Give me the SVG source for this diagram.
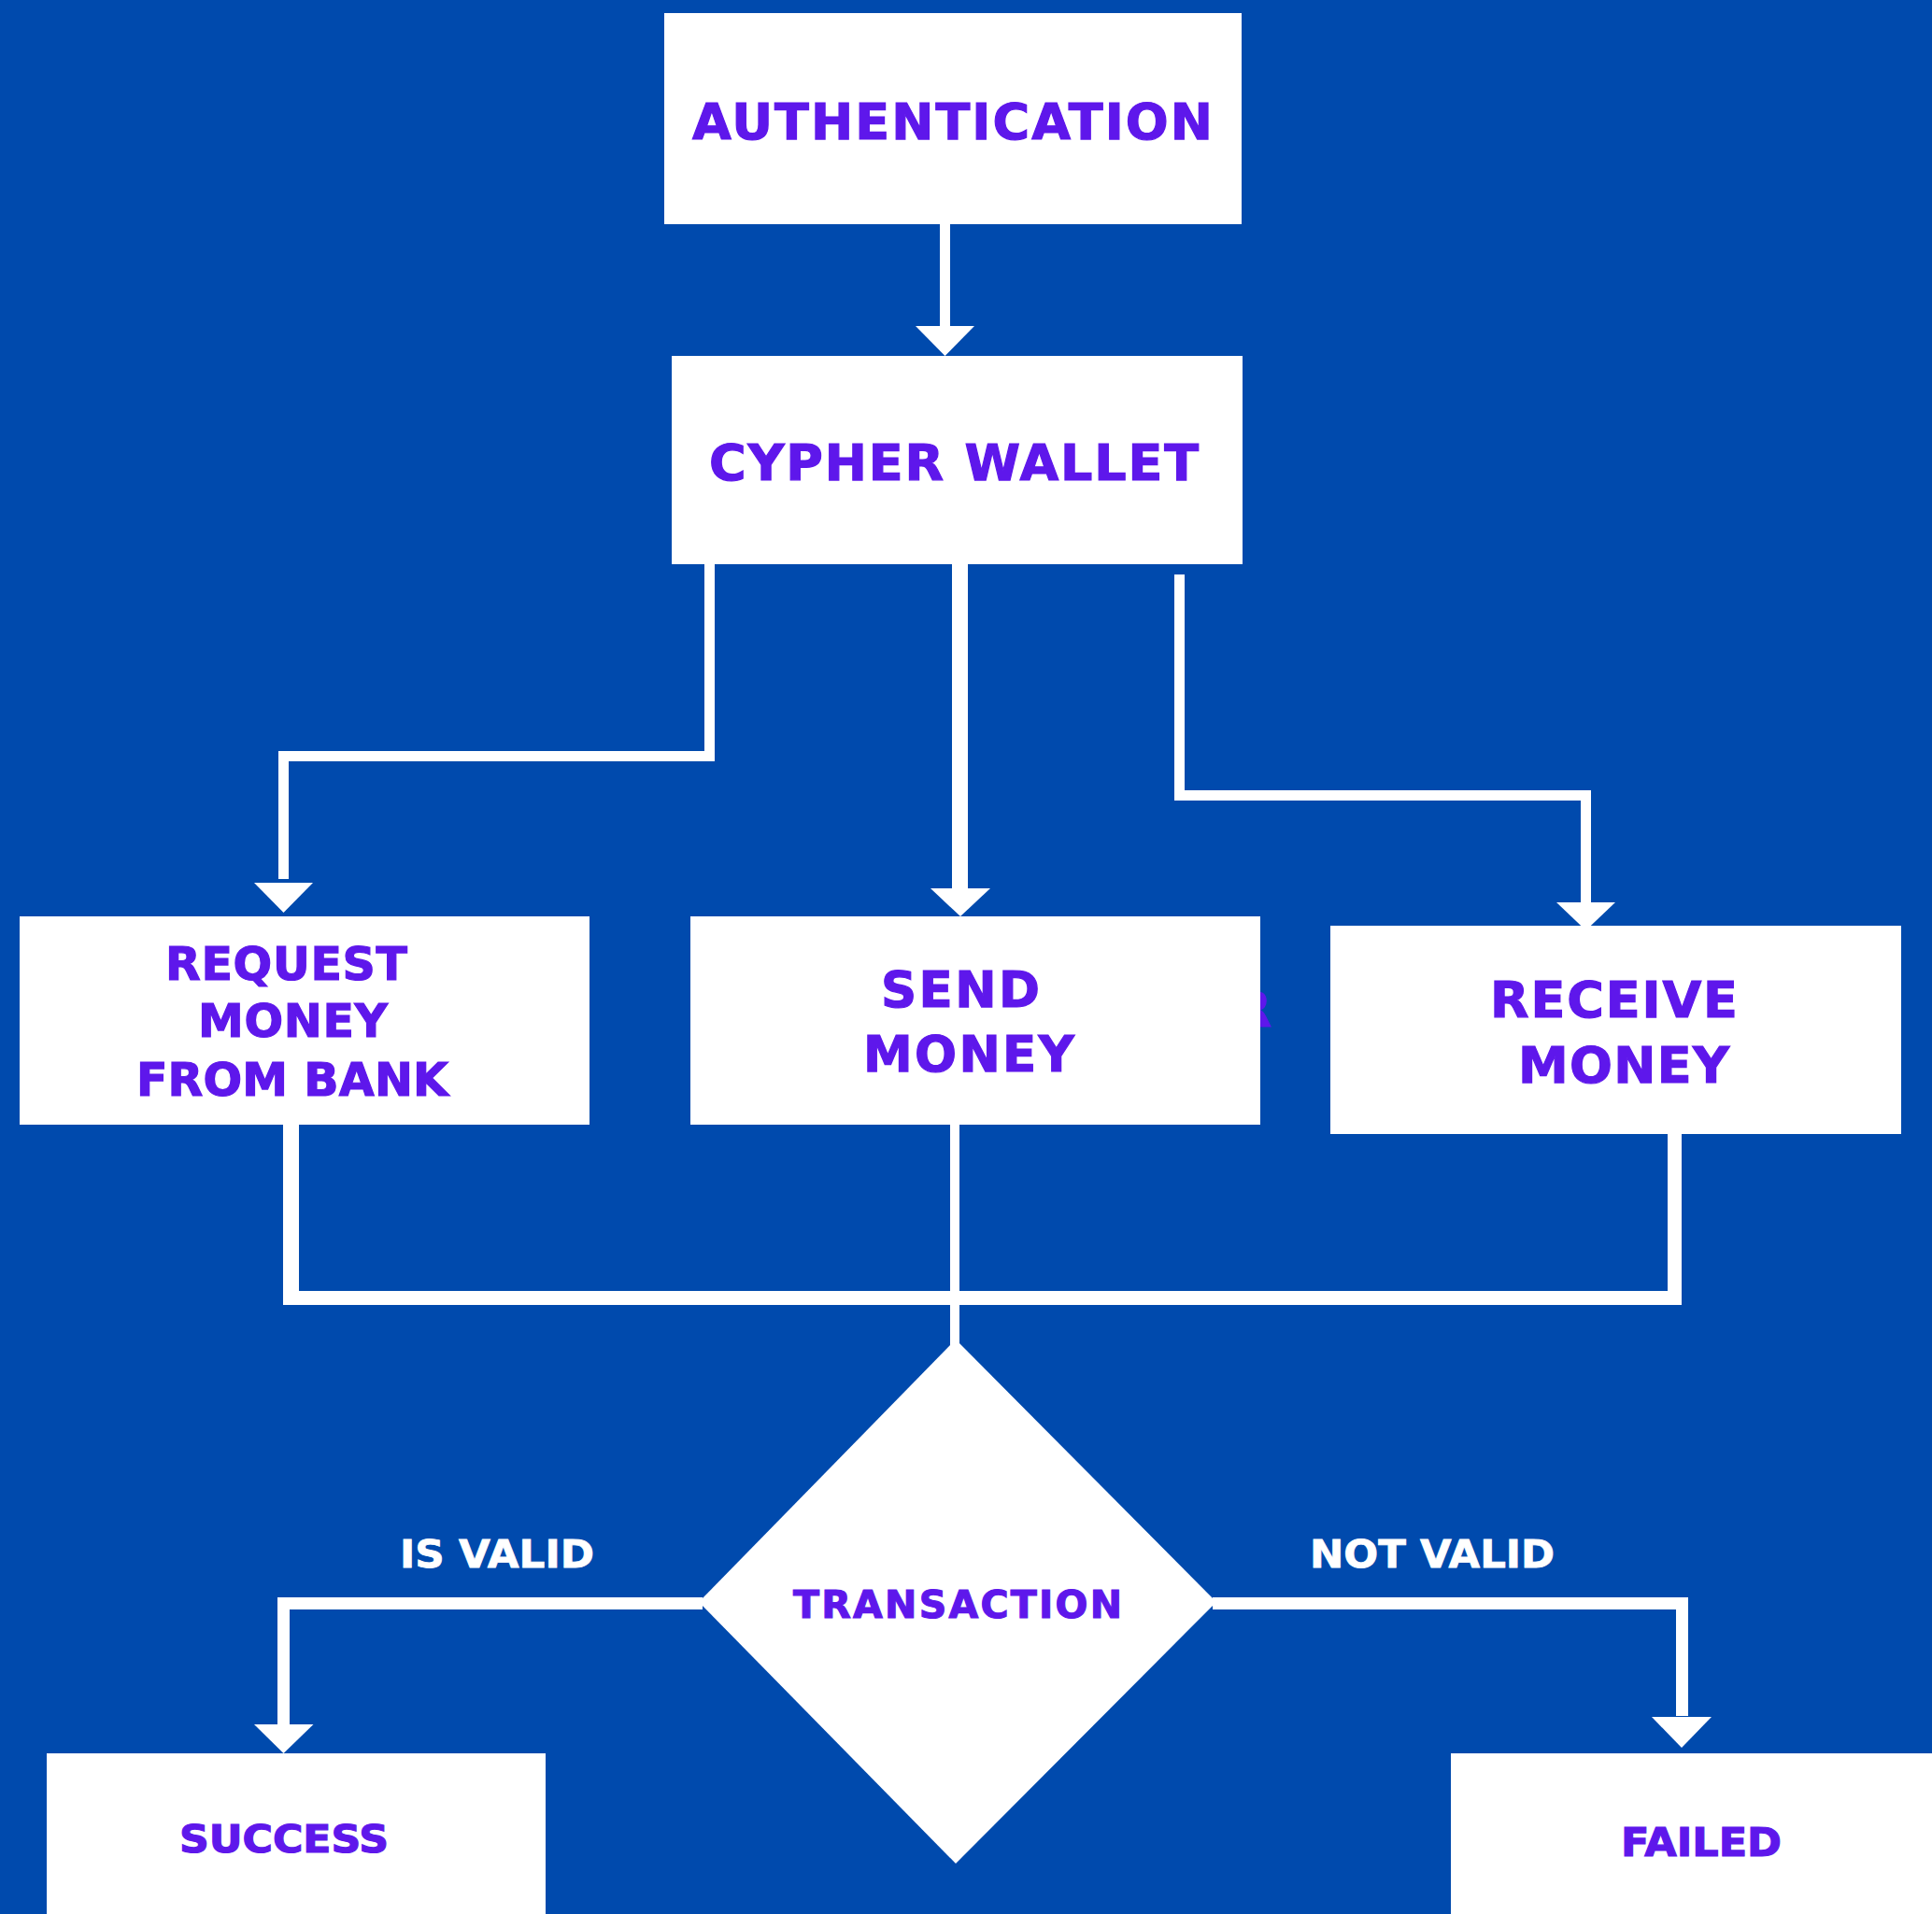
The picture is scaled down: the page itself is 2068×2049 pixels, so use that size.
<svg xmlns="http://www.w3.org/2000/svg" width="2068" height="2049" viewBox="0 0 2068 2049">
<style>
.bg{fill:#004aad}
.box{fill:#ffffff}
.lbl{font-family:"DejaVu Sans","Liberation Sans",sans-serif;font-weight:bold;fill:#5e17eb;stroke:#5e17eb;stroke-width:1.2}
.edge{font-family:"DejaVu Sans","Liberation Sans",sans-serif;font-weight:bold;fill:#ffffff;stroke:#ffffff;stroke-width:0.8}
.ln{stroke:#ffffff;fill:none;stroke-linejoin:miter;stroke-linecap:butt}
.head{fill:#ffffff}
</style>
<rect class="bg" x="0" y="0" width="2068" height="2049"/>
<g id="connectors">
  <line class="ln" x1="1011.5" y1="240" x2="1011.5" y2="349" stroke-width="11"/>
  <polygon class="head" points="980,349 1043,349 1011.5,381"/>
  <path class="ln" d="M759.5,604 V809.5 H303.5 V941" stroke-width="11"/>
  <polygon class="head" points="272,945 335,945 303.5,977"/>
  <line class="ln" x1="1027.5" y1="604" x2="1027.5" y2="951" stroke-width="17"/>
  <polygon class="head" points="996,951 1060,951 1028,981"/>
  <path class="ln" d="M1262.5,615 V851.5 H1697.5 V966" stroke-width="11"/>
  <polygon class="head" points="1666,966 1729,966 1697.5,996"/>
  <line class="ln" x1="311.5" y1="1204" x2="311.5" y2="1397" stroke-width="17"/>
  <line class="ln" x1="303" y1="1389.5" x2="1800" y2="1389.5" stroke-width="15"/>
  <line class="ln" x1="1792.5" y1="1214" x2="1792.5" y2="1397" stroke-width="15"/>
  <line class="ln" x1="1022" y1="1204" x2="1022" y2="1445" stroke-width="10"/>
  <path class="ln" d="M752,1716.5 H303.5 V1846" stroke-width="13"/>
  <polygon class="head" points="272,1846 335.5,1846 303.5,1877"/>
  <path class="ln" d="M1298,1716.5 H1800.5 V1837" stroke-width="13"/>
  <polygon class="head" points="1768,1838 1832,1838 1800,1871"/>
  <text class="edge" x="428" y="1678" font-size="41" textLength="208" lengthAdjust="spacingAndGlyphs">IS VALID</text>
  <text class="edge" x="1402" y="1678" font-size="41" textLength="262" lengthAdjust="spacingAndGlyphs">NOT VALID</text>
</g>
<g id="stray">
  <text class="lbl" x="1321" y="1099" font-size="52">R</text>
</g>
<g id="authentication">
  <rect class="box" x="711" y="14" width="618" height="226"/>
  <text class="lbl" x="741" y="149" font-size="54" textLength="557" lengthAdjust="spacing">AUTHENTICATION</text>
</g>
<g id="cypher-wallet">
  <rect class="box" x="719" y="381" width="611" height="223"/>
  <text class="lbl" x="759" y="514" font-size="54" textLength="524" lengthAdjust="spacing">CYPHER WALLET</text>
</g>
<g id="request-money">
  <rect class="box" x="21" y="981" width="610" height="223"/>
  <text class="lbl" x="177" y="1049" font-size="49" textLength="259" lengthAdjust="spacing">REQUEST</text>
  <text class="lbl" x="212" y="1110" font-size="49" textLength="203" lengthAdjust="spacing">MONEY</text>
  <text class="lbl" x="146" y="1173" font-size="49" textLength="334" lengthAdjust="spacing">FROM BANK</text>
</g>
<g id="send-money">
  <rect class="box" x="739" y="981" width="610" height="223"/>
  <text class="lbl" x="943" y="1078" font-size="53" textLength="170" lengthAdjust="spacing">SEND</text>
  <text class="lbl" x="924" y="1147" font-size="53" textLength="226" lengthAdjust="spacing">MONEY</text>
</g>
<g id="receive-money">
  <rect class="box" x="1424" y="991" width="611" height="223"/>
  <text class="lbl" x="1595" y="1089" font-size="54" textLength="265" lengthAdjust="spacing">RECEIVE</text>
  <text class="lbl" x="1625" y="1159" font-size="54" textLength="226" lengthAdjust="spacing">MONEY</text>
</g>
<g id="transaction">
  <polygon class="box" points="1023,1434 1302,1715 1023,1995 748,1715"/>
  <text class="lbl" x="849" y="1732" font-size="41" textLength="352" lengthAdjust="spacing">TRANSACTION</text>
</g>
<g id="success">
  <rect class="box" x="50" y="1877" width="534" height="172"/>
  <text class="lbl" x="192" y="1983" font-size="41" textLength="224" lengthAdjust="spacingAndGlyphs">SUCCESS</text>
</g>
<g id="failed">
  <rect class="box" x="1553" y="1877" width="515" height="172"/>
  <text class="lbl" x="1735" y="1987" font-size="42" textLength="172" lengthAdjust="spacingAndGlyphs">FAILED</text>
</g>
</svg>
